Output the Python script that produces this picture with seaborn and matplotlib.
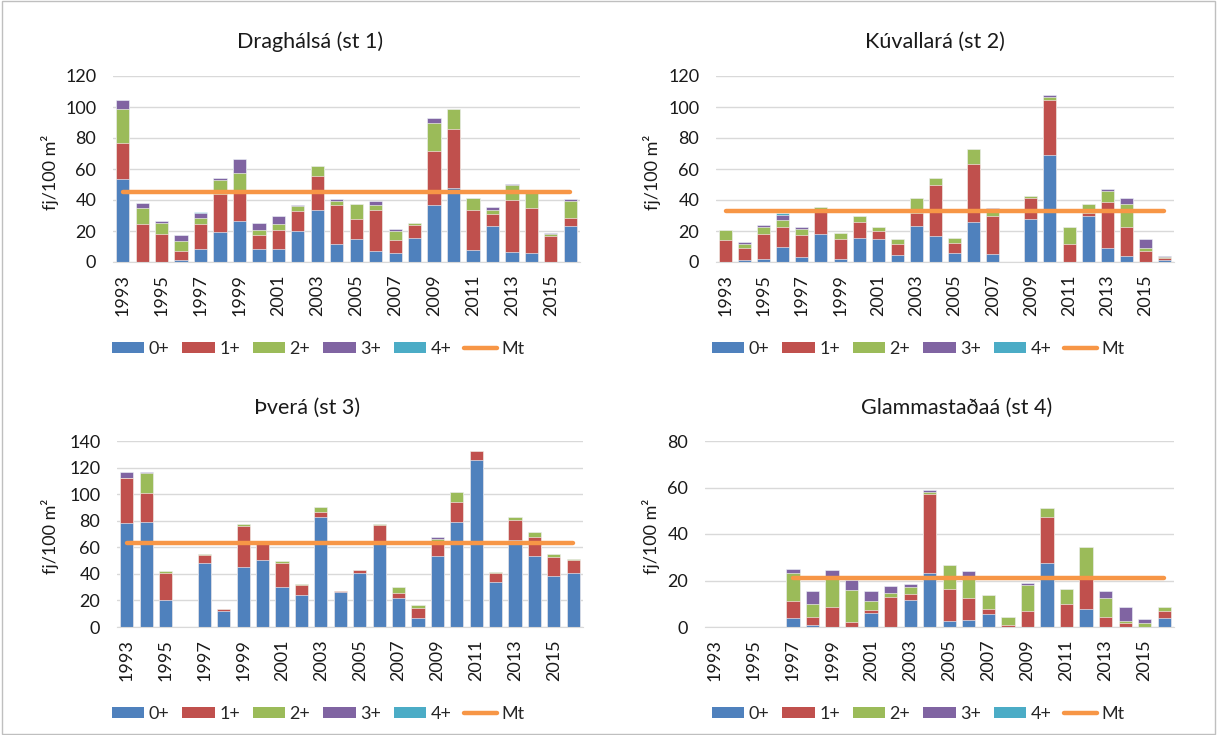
import numpy as np
import pandas as pd
import matplotlib
matplotlib.use("Agg")
import matplotlib.pyplot as plt
from matplotlib.patches import Patch, Rectangle
from matplotlib.lines import Line2D
import seaborn as sns

# years on the x axis and the age classes (stack order, bottom -> top)
years = [str(y) for y in range(1993, 2017)]
age_classes = ["0+", "1+", "2+", "3+", "4+"]
class_colors = ["#4F81BD", "#C0504D", "#9BBB59", "#8064A2", "#4BACC6"]
mt_color = "#F79646"

# --- Draghálsá (st 1), fj/100 m2
dragh_0 = [53.5, 0, 0, 1.0, 8.2, 19.6, 26.2, 8.2, 8.2, 19.7, 33.8, 11.7, 14.7, 7.4, 5.6, 15.8, 36.8, 47.6, 8.0, 23.2, 6.5, 5.6, 0, 23.2]
dragh_1 = [23.0, 24.7, 18.2, 6.3, 16.5, 24.5, 19.0, 9.1, 12.4, 13.2, 22.0, 25.3, 13.2, 26.4, 8.5, 8.0, 34.8, 37.9, 25.8, 8.0, 33.8, 29.0, 16.7, 4.9]
dragh_2 = [22.0, 10.0, 7.0, 6.5, 4.0, 8.5, 12.5, 3.3, 4.1, 3.2, 5.9, 2.4, 9.3, 3.0, 5.6, 1.1, 18.0, 13.0, 7.3, 2.6, 9.1, 10.0, 1.3, 11.3]
dragh_3 = [6.0, 3.3, 1.0, 3.5, 2.8, 1.5, 8.5, 4.3, 5.0, 0.9, 0, 1.1, 0, 2.8, 1.7, 0, 3.3, 0, 0, 1.5, 0.8, 0, 0.8, 1.1]
dragh_4 = [0, 0, 0, 0, 0.9, 0, 0, 0, 0, 0, 0, 0, 0, 0, 0, 0, 0, 0, 0, 0, 0, 0, 0, 0]
dragh_mt = 45.0

# --- Kúvallará (st 2)
kuv_0 = [0, 1.1, 1.7, 10.0, 3.5, 18.2, 1.7, 15.8, 14.7, 4.3, 23.2, 16.7, 5.8, 25.5, 5.2, 0, 27.9, 69.0, 0, 29.7, 9.1, 4.1, 0, 1.1]
kuv_1 = [14.1, 8.2, 16.5, 12.3, 13.8, 15.3, 13.2, 9.7, 5.0, 7.4, 8.2, 32.7, 6.5, 37.9, 24.5, 0, 13.2, 35.3, 11.7, 1.7, 29.6, 18.2, 7.4, 1.3]
kuv_2 = [6.5, 2.4, 4.1, 5.0, 3.9, 1.8, 4.1, 3.9, 2.6, 3.2, 9.7, 4.9, 3.5, 9.5, 3.4, 0, 1.5, 2.4, 11.2, 6.3, 7.4, 15.4, 1.5, 0.8]
kuv_3 = [0, 0.9, 1.5, 3.2, 1.7, 0, 0, 0, 0, 0, 0, 0, 0, 0, 1.5, 0, 0, 1.1, 0, 0, 0.9, 3.4, 5.8, 0.9]
kuv_4 = [0, 0, 0, 0.9, 0, 0, 0, 0, 0, 0, 0, 0, 0, 0, 0, 0, 0, 0, 0, 0, 0, 0, 0, 0]
kuv_mt = 32.7

# --- Þverá (st 3)
tver_0 = [78.0, 79.0, 20.0, 0, 47.8, 12.0, 45.0, 50.5, 29.8, 24.0, 82.8, 26.0, 41.0, 63.0, 22.0, 6.8, 53.5, 79.0, 125.8, 33.5, 65.5, 53.5, 38.3, 41.0]
tver_1 = [34.5, 21.8, 20.3, 0, 6.5, 1.5, 31.0, 13.0, 18.0, 7.5, 3.7, 1.0, 1.8, 14.0, 3.8, 7.5, 10.0, 15.3, 7.0, 7.0, 15.3, 14.0, 14.2, 9.5]
tver_2 = [0, 15.2, 1.5, 0, 1.0, 0, 1.8, 0, 1.7, 1.0, 3.8, 0, 0, 0.8, 4.0, 2.0, 3.0, 7.5, 0, 0.8, 2.0, 3.8, 2.8, 1.0]
tver_3 = [4.3, 0.8, 0, 0, 0, 0, 0, 0, 0, 0, 0, 0, 0, 0, 0, 0, 1.0, 0, 0, 0, 0, 0, 0, 0]
tver_4 = [0] * 24
tver_mt = 63.3

# --- Glammastaðaá (st 4), no sampling 1993-1996
glam_0 = [0, 0, 0, 0, 3.9, 0.7, 0, 0, 6.0, 0, 11.4, 23.3, 2.4, 2.9, 5.6, 0, 0, 27.7, 0, 7.7, 0, 0, 0, 3.9]
glam_1 = [0, 0, 0, 0, 7.1, 3.7, 8.7, 2.3, 1.3, 13.1, 2.9, 33.7, 13.9, 9.7, 2.1, 0.7, 7.0, 19.6, 10.0, 14.0, 4.4, 1.7, 0, 3.1]
glam_2 = [0, 0, 0, 0, 12.3, 5.5, 13.0, 13.6, 3.7, 1.6, 3.0, 1.0, 10.3, 9.1, 6.0, 3.7, 11.0, 3.7, 6.3, 12.6, 8.2, 1.0, 1.7, 1.7]
glam_3 = [0, 0, 0, 0, 1.7, 5.4, 2.7, 4.4, 4.3, 2.9, 1.1, 1.1, 0, 2.2, 0, 0, 1.0, 0, 0, 0, 2.7, 6.0, 1.7, 0]
glam_4 = [0] * 24
glam_mt = 21.0

sns.set_style("white")
plt.rcParams["font.family"] = ["Lato", "DejaVu Sans"]

W, H = 1217, 735
fig = plt.figure(figsize=(W / 100, H / 100), dpi=100)


def px_axes(left, right, bottom, top):
    # axes placed by pixel edges of the reference
    return fig.add_axes([left / W, 1 - bottom / H, (right - left) / W, (bottom - top) / H])


def draw_panel(ax, classes, mt, ymax, ystep):
    df = pd.DataFrame(dict(zip(age_classes, classes)), index=years)
    cum = df.cumsum(axis=1)
    # stacked bars: draw cumulative totals from the top class downwards
    for i in range(len(age_classes) - 1, -1, -1):
        d = pd.DataFrame({"year": years, "value": cum[age_classes[i]].values})
        sns.barplot(data=d, x="year", y="value", order=years, color=class_colors[i],
                    saturation=1, width=0.68, edgecolor="white", linewidth=0.4,
                    errorbar=None, ax=ax)
    # mean line over the sampled years
    sampled = np.nonzero(df.sum(axis=1).values)[0]
    ax.plot([sampled[0], sampled[-1]], [mt, mt], color=mt_color, lw=3.2,
            solid_capstyle="round", zorder=5)

    ax.set_xlim(-0.5, len(years) - 0.5)
    ax.set_ylim(0, ymax)
    ax.set_yticks(np.arange(0, ymax + 1, ystep))
    ax.set_xticks(range(0, len(years), 2))
    ax.set_xticklabels(years[::2], rotation=90)
    ax.yaxis.grid(True, color="#D9D9D9", lw=1)
    ax.set_axisbelow(True)
    for s in ["left", "right", "top"]:
        ax.spines[s].set_visible(False)
    ax.spines["bottom"].set_color("#D9D9D9")
    ax.tick_params(axis="x", length=0, pad=9, labelsize=13, colors="#1a1a1a")
    ax.tick_params(axis="y", length=0, pad=12, labelsize=13, colors="#1a1a1a")
    ax.set_xlabel("")
    ax.set_ylabel("")


ax1 = px_axes(113, 580, 262, 76)
draw_panel(ax1, [dragh_0, dragh_1, dragh_2, dragh_3, dragh_4], dragh_mt, 120, 20)
ax2 = px_axes(716, 1174, 262, 76)
draw_panel(ax2, [kuv_0, kuv_1, kuv_2, kuv_3, kuv_4], kuv_mt, 120, 20)
ax3 = px_axes(117, 583, 627, 441)
draw_panel(ax3, [tver_0, tver_1, tver_2, tver_3, tver_4], tver_mt, 140, 20)
ax4 = px_axes(705, 1174, 627, 441)
draw_panel(ax4, [glam_0, glam_1, glam_2, glam_3, glam_4], glam_mt, 80, 20)

# titles, y labels and legends (centred over the whole chart area like Excel)
titles = [("Draghálsá (st 1)", 310, 42), ("Kúvallará (st 2)", 935, 42),
          ("Þverá (st 3)", 307, 408), ("Glammastaðaá (st 4)", 957, 408)]
for txt, x, y in titles:
    fig.text(x / W, 1 - y / H, txt, ha="center", va="center", fontsize=15.5, color="#1a1a1a")

ylabels = [(50, 172), (652, 172), (50, 536), (651, 536)]
for x, y in ylabels:
    fig.text(x / W, 1 - y / H, "fj/100 m²", rotation=90, ha="center", va="center",
             fontsize=13, color="#1a1a1a")

handles = [Patch(facecolor=c, edgecolor="none") for c in class_colors]
handles.append(Line2D([0], [0], color=mt_color, lw=3.2))
labels = age_classes + ["Mt"]
for x, y in [(318, 349), (918, 349), (318, 714), (918, 714)]:
    fig.legend(handles, labels, loc="center", bbox_to_anchor=(x / W, 1 - y / H),
               ncol=6, frameon=False, fontsize=13, handlelength=1.8, handleheight=0.55,
               handletextpad=0.25, columnspacing=0.7)

# light frame round the whole chart
fig.patches.append(Rectangle((0.002, 0.002), 0.996, 0.996, transform=fig.transFigure,
                             fill=False, edgecolor="#BFBFBF", lw=1))

fig.savefig("out.png", dpi=100)
plt.close()
